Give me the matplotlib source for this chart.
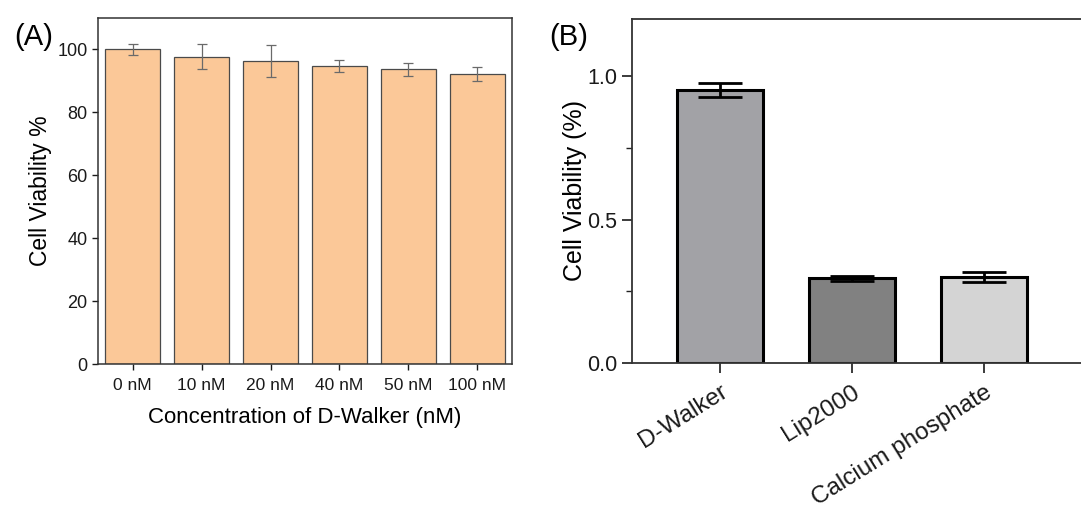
import numpy as np
import matplotlib
matplotlib.use('Agg')
import matplotlib.pyplot as plt
from matplotlib.ticker import MultipleLocator

plt.rcParams['font.family'] = ['Liberation Sans', 'DejaVu Sans']

# panel A data
conc_labels = ['0 nM', '10 nM', '20 nM', '40 nM', '50 nM', '100 nM']
viab_a = [100.0, 97.7, 96.3, 94.7, 93.7, 92.1]
err_a = [1.8, 3.9, 5.2, 1.8, 2.0, 2.3]

# panel B data
groups_b = ['D-Walker', 'Lip2000', 'Calcium phosphate']
viab_b = [0.951, 0.296, 0.300]
err_b = [0.024, 0.009, 0.018]
colors_b = ['#a2a2a6', '#818181', '#d4d4d4']

fig = plt.figure(figsize=(10.81, 5.12), dpi=100)

# ---- (A)
ax1 = fig.add_axes([0.0907, 0.289, 0.3829, 0.676])
x = np.arange(len(conc_labels))
ax1.bar(x, viab_a, width=0.8, color='#fbc898', edgecolor='#4a4a4a', linewidth=0.9)
ax1.errorbar(x, viab_a, yerr=err_a, fmt='none', ecolor='#6a6a6a',
             elinewidth=0.9, capsize=3.5, capthick=0.9)
ax1.set_xlim(-0.5, 5.5)
ax1.set_ylim(0, 110)
ax1.set_yticks([0, 20, 40, 60, 80, 100])
ax1.set_xticks(x)
ax1.set_xticklabels(conc_labels)
ax1.tick_params(axis='both', colors='#1a1a1a', width=1.0, length=4)
ax1.tick_params(axis='x', labelsize=12.5, pad=6)
ax1.tick_params(axis='y', labelsize=13)
for s in ax1.spines.values():
    s.set_color('#333333')
    s.set_linewidth(1.1)
ax1.set_xlabel('Concentration of D-Walker (nM)', fontsize=16, labelpad=10)
ax1.set_ylabel('Cell Viability %', fontsize=16.5, labelpad=4)
fig.text(0.013, 0.912, '(A)', fontsize=21)

# ---- (B)
ax2 = fig.add_axes([0.5847, 0.291, 0.4153, 0.672])
xb = np.arange(len(groups_b))
ax2.errorbar(xb, viab_b, yerr=err_b, fmt='none', ecolor='black',
             elinewidth=2.0, capsize=16, capthick=2.0, zorder=3)
ax2.bar(xb, viab_b, width=0.65, color=colors_b, edgecolor='black', linewidth=2.2, zorder=2)
ax2.set_xlim(-0.667, 2.735)
ax2.set_ylim(0, 1.2)
ax2.yaxis.set_major_locator(MultipleLocator(0.5))
ax2.yaxis.set_minor_locator(MultipleLocator(0.25))
ax2.set_xticks(xb)
ax2.set_xticklabels(groups_b, rotation=32, ha='right', rotation_mode='anchor')
ax2.tick_params(axis='y', which='major', labelsize=15.5, colors='#1a1a1a', width=1.2, length=7)
ax2.tick_params(axis='x', which='major', labelsize=17.5, colors='#1a1a1a', width=1.2, length=7, pad=6)
ax2.tick_params(axis='y', which='minor', width=1.0, length=4, colors='#222222')
ax2.spines['right'].set_visible(False)
for s in ['left', 'bottom', 'top']:
    ax2.spines[s].set_color('#333333')
    ax2.spines[s].set_linewidth(1.3)
ax2.set_ylabel('Cell Viability (%)', fontsize=18, labelpad=0)
fig.text(0.508, 0.912, '(B)', fontsize=21)

plt.savefig('out.png', dpi=100)
